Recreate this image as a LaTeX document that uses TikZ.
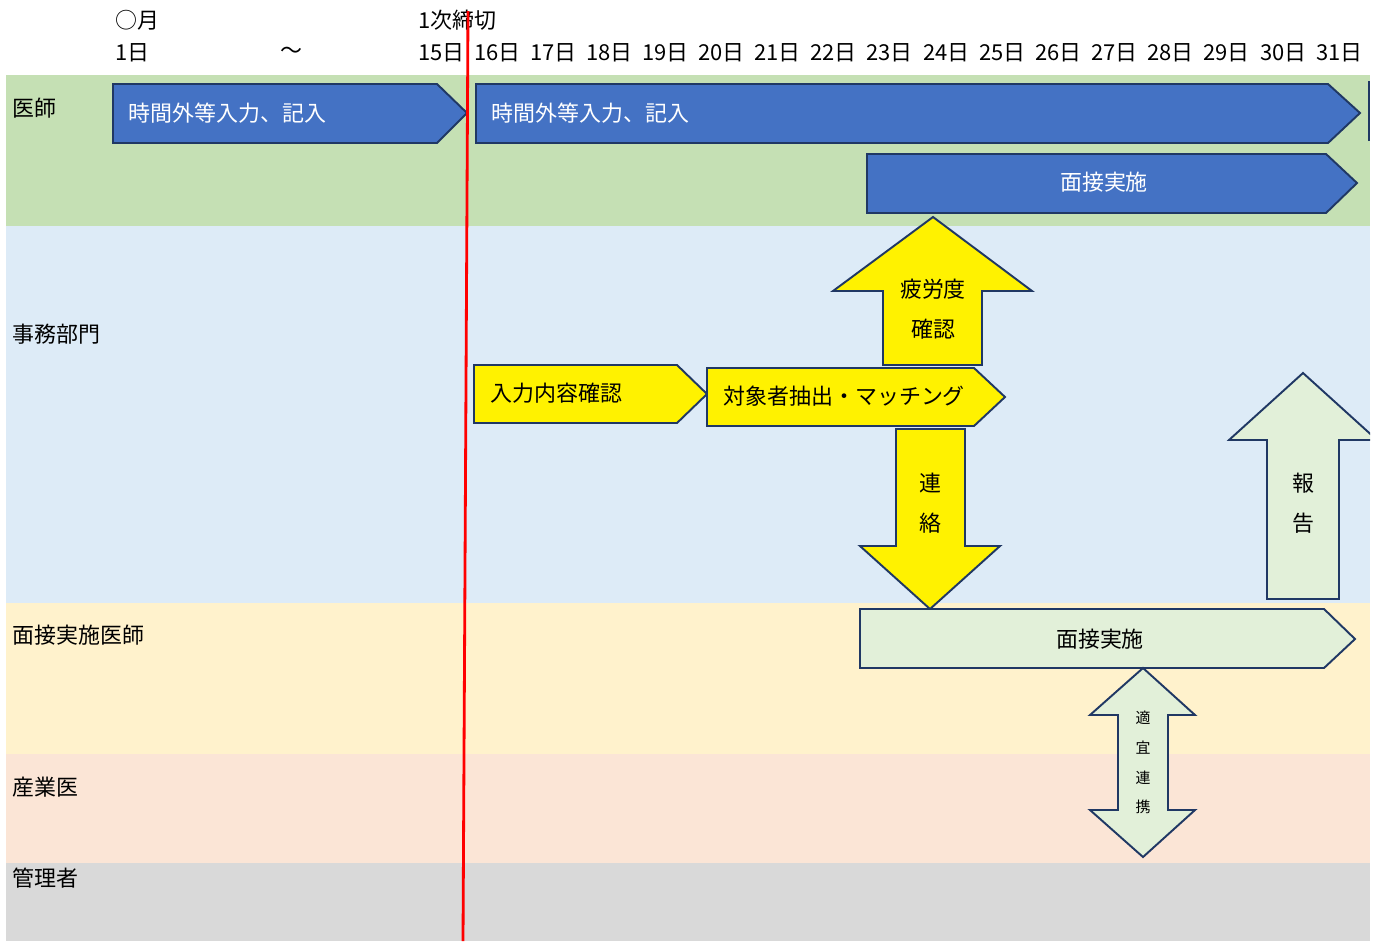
\documentclass[tikz,border=0pt]{standalone}
\usepackage{fontspec}
\setmainfont{Noto Sans CJK JP}
\usepackage{tikz}
\definecolor{lanegreen}{HTML}{C5E0B4}
\definecolor{laneblue}{HTML}{DDEBF7}
\definecolor{laneyellow}{HTML}{FFF2CC}
\definecolor{lanepink}{HTML}{FBE5D6}
\definecolor{lanegray}{HTML}{D9D9D9}
\definecolor{barblue}{HTML}{4472C4}
\definecolor{barline}{HTML}{203864}
\definecolor{barpale}{HTML}{E2F0D9}
\tikzstyle{lanetext}=[anchor=west, inner sep=0pt, font=\fontsize{12.5}{15}\selectfont]
\tikzstyle{bartext}=[inner sep=0pt, font=\fontsize{12.5}{15}\selectfont]
\tikzstyle{smalltext}=[inner sep=0pt, font=\fontsize{8.5}{10}\selectfont]
\tikzstyle{bluebar}=[fill=barblue, draw=barline, line width=1.1pt]
\tikzstyle{yellowbar}=[fill=yellow, draw=barline, line width=1.1pt]
\tikzstyle{palebar}=[fill=barpale, draw=barline, line width=1.1pt]
\tikzstyle{deadline}=[draw=red, line width=1.6pt]

\begin{document}
\begin{tikzpicture}[x=0.02cm, y=-0.02cm]
		   \useasboundingbox (0,0) rectangle (1378,941);
		   \begin{scope}
			   \fill[lanegreen] (6,75) rectangle (1370,226);
			   \fill[laneblue] (6,226) rectangle (1370,603);
			   \fill[laneyellow] (6,603) rectangle (1370,754);
			   \fill[lanepink] (6,754) rectangle (1370,863);
			   \fill[lanegray] (6,863) rectangle (1370,941);

			   \node (l1) at (12,108)[lanetext] {医師};
			   \node (l2) at (12,334)[lanetext] {事務部門};
			   \node (l3) at (12,635)[lanetext] {面接実施医師};
			   \node (l4) at (12,787)[lanetext] {産業医};
			   \node (l5) at (12,878)[lanetext] {管理者};
		   \end{scope}
		   \begin{scope}
			   \node (m) at (115,20)[lanetext] {○月};
			   \node (cut) at (418,20)[lanetext] {1次締切};
			   \node (d1) at (115,53)[lanetext] {1日};
			   \node (til) at (280,53)[lanetext] {〜};
			   \node (d15) at (418,53)[lanetext] {15日};
			   \node (d16) at (474,53)[lanetext] {16日};
			   \node (d17) at (530,53)[lanetext] {17日};
			   \node (d18) at (586,53)[lanetext] {18日};
			   \node (d19) at (642,53)[lanetext] {19日};
			   \node (d20) at (698,53)[lanetext] {20日};
			   \node (d21) at (754,53)[lanetext] {21日};
			   \node (d22) at (810,53)[lanetext] {22日};
			   \node (d23) at (866,53)[lanetext] {23日};
			   \node (d24) at (923,53)[lanetext] {24日};
			   \node (d25) at (979,53)[lanetext] {25日};
			   \node (d26) at (1035,53)[lanetext] {26日};
			   \node (d27) at (1091,53)[lanetext] {27日};
			   \node (d28) at (1147,53)[lanetext] {28日};
			   \node (d29) at (1203,53)[lanetext] {29日};
			   \node (d30) at (1260,53)[lanetext] {30日};
			   \node (d31) at (1316,53)[lanetext] {31日};
		   \end{scope}
		   \begin{scope}
			   \path[bluebar] (113,84) -- (437,84) -- (467,113) -- (437,143) -- (113,143) -- cycle;
			   \path[bluebar] (476,84) -- (1328,84) -- (1360,113) -- (1328,143) -- (476,143) -- cycle;
			   \path[draw=barline, line width=1.1pt] (1369,81) -- (1369,141);
			   \path[bluebar] (867,154) -- (1326,154) -- (1357,183) -- (1326,213) -- (867,213) -- cycle;

			   \path[yellowbar] (474,365) -- (677,365) -- (707,394) -- (677,423) -- (474,423) -- cycle;
			   \path[yellowbar] (707,368) -- (974,368) -- (1005,397) -- (974,426) -- (707,426) -- cycle;
			   \path[yellowbar] (933,217) -- (1032,291) -- (982,291) -- (982,365) -- (883,365) -- (883,291) -- (833,291) -- cycle;
			   \path[yellowbar] (896,429) -- (965,429) -- (965,546) -- (1000,546) -- (930,609) -- (860,546) -- (896,546) -- cycle;

			   \begin{scope}
				   \clip (6,226) rectangle (1370,941);
				   \path[palebar] (1303,373) -- (1377,440) -- (1339,440) -- (1339,599) -- (1267,599) -- (1267,440) -- (1229,440) -- cycle;
			   \end{scope}
			   \path[palebar] (860,609) -- (1324,609) -- (1355,639) -- (1324,668) -- (860,668) -- cycle;
			   \path[palebar] (1143,668) -- (1195,715) -- (1168,715) -- (1168,810) -- (1195,810) -- (1143,857) -- (1090,810) -- (1118,810) -- (1118,715) -- (1090,715) -- cycle;
		   \end{scope}
		   \begin{scope}
			   \node (b1) at (128,113)[bartext, anchor=west, text=white] {時間外等入力、記入};
			   \node (b2) at (491,113)[bartext, anchor=west, text=white] {時間外等入力、記入};
			   \node (b3) at (1104,182)[bartext, text=white] {面接実施};
			   \node (y1) at (490,393)[bartext, anchor=west] {入力内容確認};
			   \node (y2) at (723,396)[bartext, anchor=west] {対象者抽出・マッチング};
			   \node (u1) at (933,289)[bartext] {疲労度};
			   \node (u2) at (933,329)[bartext] {確認};
			   \node (v1) at (930,483)[bartext] {連};
			   \node (v2) at (930,523)[bartext] {絡};
			   \node (r1) at (1303,483)[bartext] {報};
			   \node (r2) at (1303,523)[bartext] {告};
			   \node (p1) at (1100,639)[bartext] {面接実施};
			   \node (s1) at (1143,718)[smalltext] {適};
			   \node (s2) at (1143,748)[smalltext] {宜};
			   \node (s3) at (1143,778)[smalltext] {連};
			   \node (s4) at (1143,807)[smalltext] {携};
		   \end{scope}
		   \begin{scope}
			   \coordinate (top) at (468,11);
			   \coordinate (bottom) at (463,941);
			   \path[deadline] (top) -- (bottom);
		   \end{scope}
\end{tikzpicture}
\end{document}
